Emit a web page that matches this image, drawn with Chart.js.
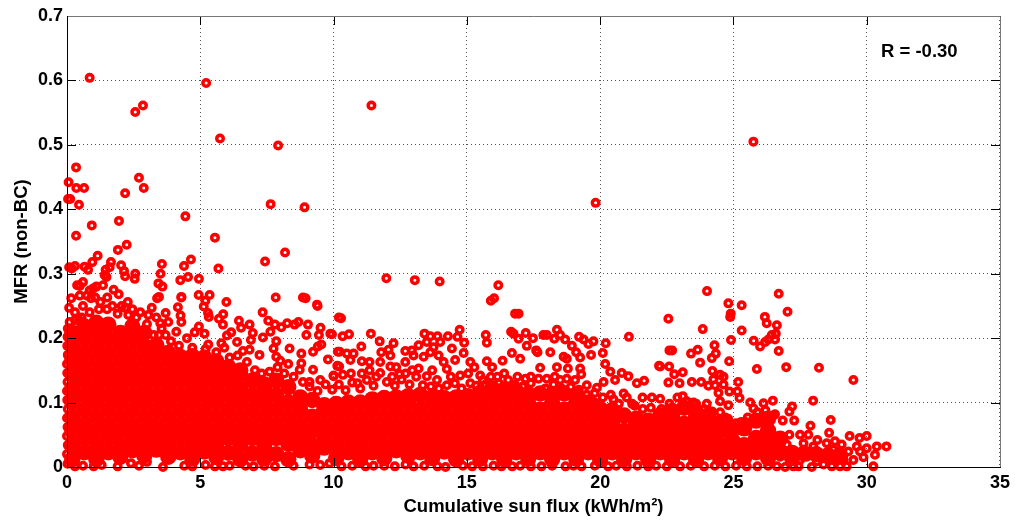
<!DOCTYPE html>
<html><head><meta charset="utf-8">
<style>html,body{margin:0;padding:0;background:#fff}#w{width:1015px;height:523px;position:relative}</style>
<script src="https://cdn.jsdelivr.net/npm/chart.js@4"></script>
</head><body><div id="w"><canvas id="c" width="1015" height="523"></canvas></div>
<script>
const xTicks=[0,5,10,15,20,25,30,35];
const yTicks=[0,0.1,0.2,0.3,0.4,0.5,0.6,0.7];
const xLabel="Cumulative sun flux (kWh/m\u00B2)";
const yLabel="MFR (non-BC)";
const note="R = -0.30";
const farOutliers=[[11.42,.561],[19.83,.41],[25.75,.505],[11.98,.293],[13.05,.29],[13.98,.288],[8.95,.262],[9.4,.25],[16.02,.262]];
const leftOutliers=[[.85,.604],[5.22,.596],[2.56,.551],[2.85,.561],[5.74,.51],[7.92,.499],[.34,.465],[.06,.442],[.35,.433],[.64,.433],[2.7,.449],[2.88,.433],[2.18,.425],[.04,.416],[.12,.416],[.45,.407],[7.64,.408],[8.91,.403],[4.44,.389],[1.95,.382],[.93,.375],[.34,.359],[5.55,.356],[2.24,.345],[1.91,.337],[8.18,.333],[1.15,.328],[7.43,.319],[4.65,.322],[3.56,.315],[1.65,.318],[.95,.318],[.3,.312],[.08,.31],[.18,.308],[.66,.311],[.79,.306],[2.03,.313],[1.6,.31],[1.45,.306],[4.39,.312],[5.68,.308],[2.14,.304],[2.56,.3],[3.51,.3],[2.54,.292],[2.18,.296],[1.41,.298],[1.48,.295],[4.54,.295],[4.25,.29],[4.95,.292],[3.43,.285],[3.58,.28],[.6,.287],[.38,.282],[.48,.281],[1.35,.282],[1.1,.28],[.98,.277],[.85,.274],[1.75,.275],[1.94,.268],[4.94,.267],[5.35,.267],[3.45,.264],[3.38,.262],[4.29,.263],[1.51,.263],[7.83,.263],[8.85,.263],[.16,.262],[.48,.266],[.75,.266],[1.06,.263],[5.98,.256],[2.28,.256]];
const upperLeft=[[5.19,.258],[5.13,.249],[4.16,.248],[9.38,.252],[5.29,.239],[5.32,.233],[7.34,.24],[5.86,.237],[5.7,.23],[6.45,.227],[7.55,.227],[6.85,.221],[6.53,.216],[4.26,.235],[3.7,.239],[3.18,.247],[2.18,.247],[.08,.247],[9.04,.221],[8.68,.225],[8.26,.223],[8.54,.221],[8.04,.217],[7.8,.221],[7.63,.21],[9.51,.216],[9.45,.205],[9.88,.207],[8.98,.205],[10.2,.232],[10.16,.179],[10.14,.157],[10,.142],[9.79,.167],[7.35,.201],[6.38,.194],[6.16,.209],[5.85,.221],[4.95,.218],[4.79,.209],[5.16,.207],[4.29,.225],[4.29,.264],[3.5,.223],[3.55,.215],[8.73,.151],[8.79,.161],[8.79,.176],[8.35,.184],[7.85,.195],[7.75,.184],[9.41,.187],[9.54,.19],[9.23,.179],[7.85,.171],[9.23,.151],[7.22,.174],[6.97,.208],[6.85,.182],[5.79,.192],[6.0,.204],[6.9,.197],[.3,.24],[.6,.25],[.9,.262],[1.25,.256],[1.7,.25],[2.05,.25],[2.45,.245],[2.75,.24],[3.05,.236],[3.35,.232],[3.8,.225],[4.1,.21],[3.7,.205],[3.25,.205],[4.5,.2],[5.3,.19],[5.9,.185],[6.6,.18],[9.1,.132],[9.5,.135],[8.3,.16],[8.0,.165]];
const upperMiddle=[[10.28,.231],[9.94,.206],[10.34,.203],[10.58,.206],[11.4,.207],[11.73,.195],[12.25,.192],[11.04,.187],[10.23,.179],[10.5,.176],[10.75,.176],[11.06,.164],[10.63,.166],[10.21,.156],[10.65,.145],[11.06,.145],[10,.141],[11.79,.178],[12.06,.182],[12.13,.173],[11.35,.163],[11.75,.163],[12.13,.156],[12.69,.18],[12.94,.181],[13.19,.189],[13.41,.207],[13.63,.203],[13.9,.203],[14.29,.203],[14.73,.213],[14.65,.202],[14.9,.193],[13.5,.194],[13.75,.186],[14,.194],[14.44,.184],[14.88,.177],[13,.173],[13.38,.171],[13.63,.178],[13.94,.173],[12.69,.163],[14.13,.163],[13.19,.153],[12.48,.144],[13.5,.141],[13.88,.135],[14.56,.166],[15.13,.163],[15.28,.155],[15.75,.164],[16.34,.165],[15.71,.205],[15.75,.193],[15.9,.258],[16.18,.282],[16.69,.177],[17,.168],[16.81,.238],[16.94,.238],[16.66,.21],[16.75,.207],[16.94,.199],[17.21,.208],[17.48,.2],[17.25,.188],[17.6,.181],[17.65,.178],[17.87,.205],[18,.205],[18.28,.199],[18.38,.213],[18.5,.205],[18.69,.198],[18.13,.178],[18.94,.188],[19.21,.202],[19.38,.198],[19.56,.191],[19.75,.195],[19.1,.178],[19.25,.17],[19.66,.174],[18.63,.171],[18.75,.168],[17.75,.154],[18.38,.155],[18.79,.153],[19.25,.153],[19.29,.144],[20.21,.192],[20.1,.177],[21.08,.202],[20.19,.16],[20.38,.148],[20.81,.146],[21.06,.141],[20.56,.135],[21.38,.13],[21.65,.134],[22.21,.157],[22.6,.181],[21.59,.108],[21.94,.108],[22.25,.106],[20.13,.132],[19.88,.123],[20.88,.114],[19.5,.127],[18.5,.135],[18.75,.137],[19.06,.135],[17.69,.117],[17.69,.137],[15.13,.13],[15.5,.142],[12.2,.14],[11.6,.14],[10.9,.13],[12.7,.145],[14.4,.14],[15.9,.14],[16.4,.145],[16.9,.14],[17.2,.137],[18,.137],[19.8,.1],[20.5,.105],[21.2,.098]];
const upperBand=[[9.1,.125],[9.4,.118],[9.7,.128],[9.95,.12],[10.2,.128],[10.45,.119],[10.7,.131],[11.0,.122],[11.25,.135],[11.5,.126],[11.75,.146],[12.0,.132],[12.3,.126],[12.55,.136],[12.85,.128],[13.1,.14],[13.35,.127],[13.65,.125],[13.95,.122],[14.25,.127],[14.55,.13],[14.8,.122],[15.05,.145],[15.35,.126],[15.7,.128],[15.95,.155],[16.2,.13],[16.55,.135],[16.8,.128],[17.1,.125],[17.4,.13],[17.95,.122],[18.25,.128],[18.55,.122],[18.9,.124],[19.2,.12],[19.5,.112],[19.8,.115],[20.1,.108],[20.4,.112],[20.7,.098],[21,.108],[21.3,.095],[21.6,.09],[21.9,.092],[22.3,.09],[22.6,.098],[22.9,.108],[23.25,.102],[23.6,.098],[23.9,.09],[24.2,.086],[24.5,.085],[24.8,.075],[25.1,.068],[25.45,.07],[25.9,.085],[26.2,.088],[26.5,.08],[10.35,.143],[11.35,.15],[12.35,.155],[12.95,.15],[13.7,.15],[14.25,.152],[14.75,.142],[15.6,.135],[16.15,.14],[17.4,.14],[18.3,.14],[4.2,.188],[4.7,.185],[5.2,.183],[5.6,.178],[6.1,.17],[6.4,.173],[6.75,.163],[7.05,.15],[7.3,.145],[7.6,.148],[7.9,.155],[8.15,.145],[8.5,.14],[8.85,.132],[3.9,.195],[3.45,.205],[3,.222],[2.6,.232],[2.3,.236],[1.9,.238],[1.5,.245],[1.2,.245],[.85,.24],[.45,.228]];
const upperRight=[[24.01,.273],[26.7,.269],[24.81,.254],[25.31,.251],[27.03,.241],[24.9,.238],[24.88,.233],[22.56,.23],[26.18,.233],[26.25,.223],[26.63,.22],[23.85,.214],[25.31,.212],[26.44,.205],[26.59,.207],[26.56,.198],[26.31,.198],[26.19,.194],[25.76,.196],[26,.187],[24.91,.197],[24.29,.189],[22.7,.181],[23.66,.182],[23.41,.176],[24.34,.176],[26.7,.18],[24.19,.169],[24.84,.164],[23.75,.162],[22.59,.156],[25.88,.152],[26.98,.155],[28.21,.154],[24.21,.149],[23.1,.147],[22.78,.144],[22.25,.156],[29.5,.135],[24.5,.143],[24.63,.14],[24.25,.136],[23.44,.132],[23.79,.132],[22.56,.131],[22.98,.13],[25.18,.132],[24.06,.126],[24.31,.127],[24.63,.128],[24.44,.115],[24.85,.117],[25.15,.117],[25.23,.107],[24.5,.102],[24.81,.096],[25.63,.1],[25.75,.091],[26.48,.103],[26.13,.099],[27.99,.103],[27.2,.094],[27.1,.086],[27.28,.072],[26.56,.082],[25.54,.077],[24.69,.077],[25.29,.07],[26.85,.072],[28.65,.073],[27.89,.064],[28.59,.053],[27.1,.05],[24.96,.064],[27.5,.05],[27.81,.05],[29.36,.048],[30,.048],[29.73,.045],[28.15,.042],[28.81,.04],[29.06,.035],[30.74,.032],[30.38,.032],[30,.029],[30.31,.019],[29.88,.015],[30.25,.001],[29.25,.001],[29,.001],[29.63,.032],[29.75,.024],[29.5,.011],[28.5,.037],[28,.032],[27.63,.037],[27,.035],[27.25,.001],[27.44,.001],[26.94,0],[26.63,.001],[27.94,0],[28.38,.004],[28.69,.001],[28.13,.009],[28.88,.011],[27.75,.016],[27.25,.024],[26.75,.016],[28.5,.019],[29.13,.011],[27.5,.011],[28,.019],[28.75,.027],[29.31,.024],[23.1,.11],[23.5,.1],[24,.098]];
const leftWall=[[.02,.005],[.0,.02],[.03,.034],[.0,.048],[.02,.062],[.0,.076],[.03,.09],[.01,.104],[.0,.118],[.02,.132],[.01,.146],[.0,.16],[.03,.174],[.01,.188],[.02,.202],[.03,.215],[.1,.225],[.3,.228],[.55,.232]];
const floorRow=[[.3,.001],[.6,.002],[1,.001],[1.3,.003],[1.9,.001],[2.4,.006],[2.7,.002],[3,.008],[3.6,.0],[4.4,.002],[4.7,.001],[5.2,.003],[5.55,.001],[5.85,.001],[6.1,.002],[6.7,.002],[7,.001],[7.4,.002],[7.8,.001],[8.5,.002],[9.1,.004],[9.5,.003],[9.85,.006],[10.3,.001],[10.7,.002],[11.2,.001],[11.5,.002],[11.9,.002],[12.3,.001],[12.7,.004],[13,.001],[13.4,.002],[13.9,.001],[14.2,.0],[14.85,.002],[15.2,.001],[15.6,.001],[16,.002],[16.3,.001],[16.7,.001],[17,.002],[17.4,.001],[17.8,.001],[18.2,.002],[18.7,.001],[19,.002],[19.3,.001],[19.8,.002],[20.3,.001],[20.6,.002],[21,.001],[21.4,.002],[21.8,.001],[22.1,.002],[22.5,.001],[23,.001],[23.4,.002],[23.9,.001],[24.3,.002],[24.7,.001],[25.1,.002],[25.5,.001],[25.9,.001],[26.3,.002]];
const coreColumns=[
[.2,[.012,.034,.056,.078,.1,.122,.144,.166,.188,.208]],
[.65,[.023,.045,.067,.089,.111,.133,.155,.177,.199,.218]],
[1.1,[.012,.034,.056,.078,.1,.122,.144,.166,.188,.21,.224]],
[1.55,[.023,.045,.067,.089,.111,.133,.155,.177,.199,.221]],
[2,[.016,.034,.056,.078,.1,.122,.144,.166,.188,.208]],
[2.45,[.026,.045,.067,.089,.111,.133,.155,.177,.199,.218]],
[2.9,[.018,.036,.056,.078,.1,.122,.144,.166,.188,.208]],
[3.35,[.027,.045,.067,.089,.111,.133,.155,.177,.189]],
[3.8,[.016,.034,.056,.078,.1,.122,.144,.166,.177]],
[4.25,[.023,.045,.067,.089,.111,.133,.155,.171]],
[4.7,[.013,.034,.056,.078,.1,.122,.144,.166,.172]],
[5.15,[.024,.045,.067,.089,.111,.133,.155,.17]],
[5.6,[.016,.036,.056,.078,.1,.122,.144,.164]],
[6.05,[.022,.045,.067,.089,.111,.133,.155]],
[6.5,[.012,.034,.056,.078,.1,.122,.144,.15]],
[6.95,[.021,.045,.067,.089,.111,.134]],
[7.4,[.013,.034,.056,.078,.1,.122,.128]],
[7.85,[.02,.045,.067,.089,.111,.134]],
[8.3,[.012,.036,.056,.078,.1,.124]],
[8.75,[.026,.045,.067,.089,.108]],
[9.2,[.018,.034,.056,.078,.104]],
[9.65,[.03,.049,.067,.089,.096]],
[10.1,[.014,.034,.056,.078,.098]],
[10.55,[.023,.045,.067,.089,.1]],
[11,[.012,.034,.056,.078,.1]],
[11.45,[.023,.045,.067,.089,.105]],
[11.9,[.014,.034,.056,.078,.1,.107]],
[12.35,[.026,.047,.067,.089,.108]],
[12.8,[.018,.034,.056,.078,.1,.11]],
[13.25,[.023,.045,.067,.089,.112]],
[13.7,[.014,.034,.056,.078,.1,.108]],
[14.15,[.024,.045,.067,.089,.107]],
[14.6,[.012,.034,.056,.078,.1,.108]],
[15.05,[.023,.045,.067,.089,.11]],
[15.5,[.013,.034,.056,.078,.1,.115]],
[15.95,[.023,.045,.067,.089,.111,.122]],
[16.4,[.012,.034,.056,.078,.1,.12]],
[16.85,[.023,.045,.067,.089,.111,.118]],
[17.3,[.013,.034,.056,.078,.1,.113]],
[17.75,[.023,.045,.067,.089,.114]],
[18.2,[.012,.034,.056,.078,.1,.112]],
[18.65,[.023,.045,.067,.089,.114]],
[19.1,[.013,.034,.056,.078,.1,.112]],
[19.55,[.023,.045,.067,.089,.1]],
[20,[.012,.034,.056,.078,.09]],
[20.45,[.023,.045,.067,.088]],
[20.9,[.012,.034,.056,.08]],
[21.35,[.023,.045,.067,.075]],
[21.8,[.012,.034,.056,.072]],
[22.25,[.023,.045,.067,.08]],
[22.7,[.012,.034,.056,.078,.087]],
[23.15,[.023,.045,.067,.092]],
[23.6,[.012,.034,.056,.078,.085]],
[24.05,[.023,.045,.067,.08]],
[24.5,[.014,.034,.056,.068]],
[24.95,[.023,.042,.058]],
[25.4,[.014,.034,.06]],
[25.85,[.023,.045,.072]],
[26.3,[.014,.034,.056,.075]],
[26.75,[.024,.044]],
[27.2,[.014,.022]],
[27.65,[.021]],
[28.1,[.02]],
[28.55,[.018]],
[29,[.018]]
];
const ringPoints=[...farOutliers,...leftOutliers,...upperLeft,...upperMiddle,...upperBand,...upperRight,...leftWall,...floorRow].map(p=>({x:p[0],y:p[1]}));
const corePoints=coreColumns.flatMap(c=>c[1].map(y=>({x:c[0],y})));
const FONT='"Liberation Sans",Arial,sans-serif';
const frame={id:'frame',
 afterDatasetsDraw(ch){const {ctx,chartArea:a,scales:{x,y}}=ch;ctx.save();
  ctx.lineWidth=1;
  ctx.strokeStyle='#000';
  xTicks.forEach(v=>{const p=Math.round(x.getPixelForValue(v))+.5;ctx.beginPath();ctx.moveTo(p,a.bottom);ctx.lineTo(p,a.bottom-9);ctx.moveTo(p,a.top);ctx.lineTo(p,a.top+9);ctx.stroke();});
  yTicks.forEach(v=>{const p=Math.round(y.getPixelForValue(v))+.5;ctx.beginPath();ctx.moveTo(a.left,p);ctx.lineTo(a.left+9,p);ctx.moveTo(a.right,p);ctx.lineTo(a.right-9,p);ctx.stroke();});
  ctx.strokeStyle='#777';ctx.beginPath();ctx.moveTo(a.left,a.top+.5);ctx.lineTo(a.right+.5,a.top+.5);ctx.lineTo(a.right+.5,a.bottom);ctx.stroke();
  ctx.strokeStyle='#000';ctx.beginPath();ctx.moveTo(a.left+.5,a.top);ctx.lineTo(a.left+.5,a.bottom+.5);ctx.lineTo(a.right+1,a.bottom+.5);ctx.stroke();
  ctx.fillStyle='#000';ctx.font='bold 18.5px '+FONT;ctx.textAlign='left';ctx.textBaseline='middle';
  ctx.fillText(note,881,52);
  ctx.restore();}};
new Chart(document.getElementById('c'),{type:'scatter',
 data:{datasets:[
  {label:'cluster',data:corePoints,pointRadius:8.2,borderWidth:0,backgroundColor:'#ff0000',clip:false,pointHoverRadius:8.2},
  {label:'MFR',data:ringPoints,pointRadius:3.25,borderWidth:3.5,borderColor:'#ff0000',backgroundColor:'rgba(0,0,0,0)',clip:false}
 ]},
 plugins:[frame],
 options:{responsive:false,animation:false,
  layout:{padding:{top:16,right:14,left:0,bottom:0}},
  plugins:{legend:{display:false},tooltip:{enabled:false}},
  scales:{
   x:{type:'linear',min:0,max:35,afterFit(s){s.height=56;},afterBuildTicks(s){s.ticks=xTicks.map(value=>({value}));},
    grid:{color:'#555',drawTicks:false,lineWidth:1},border:{display:false,dash:[1,3]},
    ticks:{color:'#000',font:{family:FONT,size:18,weight:'bold'},padding:5,maxRotation:0},
    title:{display:true,text:xLabel,color:'#000',font:{family:FONT,size:18.5,weight:'bold'},padding:{top:7,bottom:5}}},
   y:{type:'linear',min:0,max:.7,afterFit(s){s.width=67;},afterBuildTicks(s){s.ticks=yTicks.map(value=>({value}));},
    grid:{color:'#555',drawTicks:false,lineWidth:1},border:{display:false,dash:[1,3]},
    ticks:{color:'#000',font:{family:FONT,size:18,weight:'bold'},padding:4,callback:v=>String(v)},
    title:{display:true,text:yLabel,color:'#000',font:{family:FONT,size:18.5,weight:'bold'},padding:{top:11,bottom:0}}}
  }}});
</script></body></html>
